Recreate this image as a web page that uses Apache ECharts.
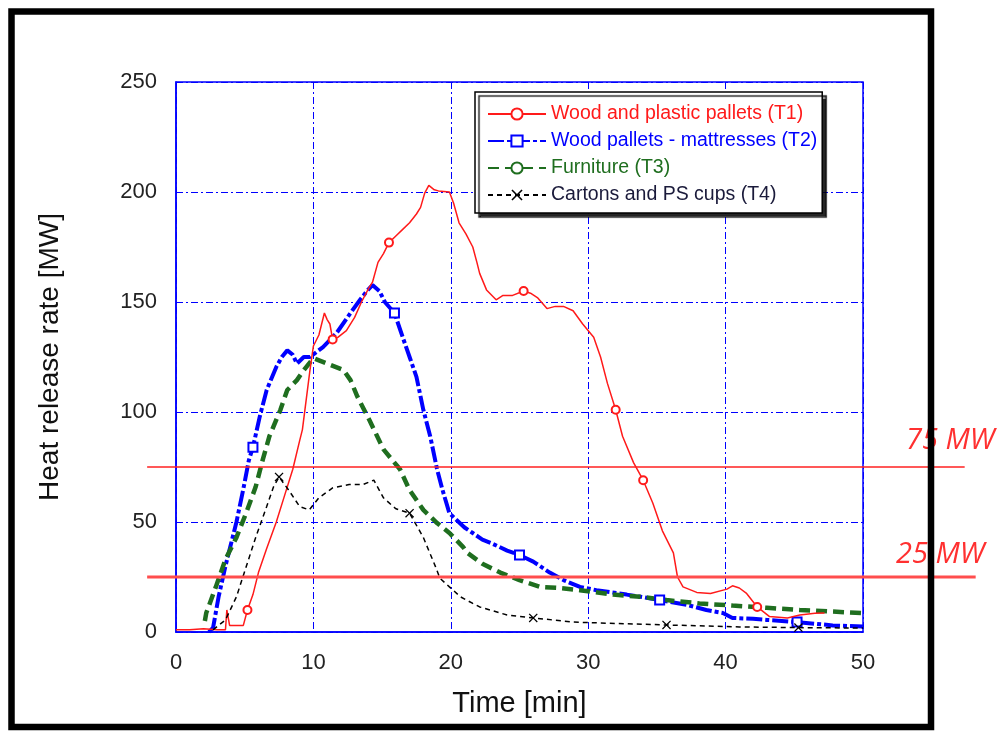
<!DOCTYPE html>
<html>
<head>
<meta charset="utf-8">
<script src="https://cdn.jsdelivr.net/npm/echarts@6/dist/echarts.min.js"></script>
<style>html,body{margin:0;padding:0;background:#fff;}#c{width:1005px;height:731px;}</style>
</head>
<body>
<div id="c"></div>
<script>
// ---- data (time [min], heat release rate [MW]) ----
const seriesNames = [
  'Wood and plastic pallets (T1)',
  'Wood pallets - mattresses (T2)',
  'Furniture (T3)',
  'Cartons and PS cups (T4)'
];
const xTicks = [0, 10, 20, 30, 40, 50];
const yTicks = [0, 50, 100, 150, 200, 250];
const thresholds = [75, 25];
const thresholdLabels = ['75 MW', '25 MW'];

const t1 = [
  [0,1],[1,1],[2,1.5],[3,1],[3.6,1],[3.7,10],[3.9,3],[4.9,3],[5.2,10],[5.6,17],[6,27],[6.6,38],
  [7.3,50],[7.9,62],[8.5,74],[9,87],[9.2,92],[9.75,119],[10,130],[10.4,135],[10.8,145],[11,142],
  [11.2,140],[11.4,133],[11.8,134],[12.4,137],[13,143],[13.5,150],[14,156],[14.3,159],[14.7,168],
  [15.1,172],[15.5,177],[16,180],[16.5,183],[17,186],[17.5,190],[17.8,193],[18.1,199.5],[18.4,203],
  [18.8,201],[19.1,200.5],[19.9,200],[20.2,195],[20.6,186],[21.1,181],[21.6,175],[21.9,168],
  [22.1,163],[22.6,155.5],[23.3,151],[23.8,153],[24.5,153],[25.3,155],[25.8,154],[26.3,152],
  [27,147],[27.6,148],[28.2,148],[28.9,146],[29.6,140],[30.4,134],[30.9,125],[31.4,113],[32,101],
  [32.5,89],[33.3,77],[34,69],[34.7,58.6],[35.4,46],[36.2,36],[36.5,25],[36.9,20.5],[37.9,18],
  [38.9,17.5],[40.1,19.5],[40.5,21],[41,20],[41.5,17.7],[42.3,11.4],[43.2,7],[44.5,6.4],[45.4,7.7],
  [46.5,8.5],[47.2,8.6]
];
const t2 = [
  [2.4,0],[2.7,2],[3.1,16],[3.6,30],[4,40],[4.4,50],[4.9,65],[5.3,78],[5.6,84],[6.1,98],[6.6,110],
  [7.3,120.5],[7.7,125],[8.1,128],[8.5,126],[8.8,122],[9.3,125],[9.75,125],[10.7,129.5],[11.7,136],
  [12.7,145],[13.4,151],[13.9,155],[14.3,157.7],[14.8,155],[15.2,150],[15.9,145],[16.5,134],[17,125],
  [17.5,116],[18,101],[18.5,89],[19,74],[19.4,64.5],[19.9,54],[20.4,51],[21,47.5],[21.6,45],[22.3,42],
  [22.9,40.5],[24.1,37],[25,35],[26,32],[27.2,27],[28.2,23.6],[29.4,20.5],[30.6,19],[32.8,17],
  [33.8,16],[35.2,14.5],[37.2,12.3],[38.6,10],[39.8,8.6],[40.5,6.4],[42,6],[43,5.5],[45.2,4.5],
  [47.8,3],[50,2.5]
];
const t3 = [
  [2.1,5],[2.2,8.6],[2.9,20.5],[3.6,33],[4.4,43],[5.1,54],[5.8,66],[6.3,78],[6.8,89],[7.6,101],
  [8.1,110],[8.8,114.5],[9.3,119],[10,124.5],[11,122],[12.2,119],[12.7,114.5],[13.2,107],[14.1,96],
  [15.1,83],[16.3,74],[17,64.5],[18,55.5],[19,49.5],[19.9,45],[20.9,38.6],[21.2,36],[22.3,31],
  [23.6,27],[25,23.6],[26.5,20.5],[27.9,20],[29.4,19],[31.8,17],[33.8,16],[35.7,14.5],[38.1,13],
  [40.5,12],[43,11],[45.4,10],[50,8.6]
];
const t4 = [
  [2.7,1],[3.6,5.5],[4.4,16],[5.1,29.5],[5.8,43],[6.6,57],[7.1,66],[7.5,70.5],[8.2,64.5],[9,57],
  [9.7,55.5],[10.4,61],[11.4,65.5],[12.6,67],[13.6,67],[14.4,69],[15.1,61],[16,56],[17,54],[18,43],
  [18.9,29.5],[19.2,24.5],[19.9,20.5],[20.7,16],[21.6,13],[22.1,11.4],[24.1,7.7],[26,6.4],[28.9,4.5],
  [31.4,4],[35.7,3.2],[41,2.3],[45.3,2],[50,1.8]
];
// times at which the original plot shows a marker symbol
const t1Marks = [5.2, 11.4, 15.5, 25.3, 32, 34, 42.3];
const t2Marks = [5.6, 15.9, 25, 35.2, 45.2];
const t3Marks = [];            // furniture markers are hidden under the thick dashes
const t4Marks = [7.5, 17, 26, 35.7, 45.3];

// reference line extent in axis units (extends outside the plot)
const refLineX = [[-2.1, 57.4], [-2.1, 58.2]];

const RED = '#ff1a1a', BLUE = '#0000ff', GREEN = '#1f6e1f', BLACK = '#000000';
const FONT = '"Liberation Sans", Arial, sans-serif';
const xSymbol = 'path://M0,1L1,0L5,4L9,0L10,1L6,5L10,9L9,10L5,6L1,10L0,9L4,5Z';

function markSize(list, size) {
  return function (val) { return list.indexOf(val[0]) >= 0 ? size : 0; };
}
const gridLine = { show: true, lineStyle: { color: BLUE, width: 1, type: [7, 3, 2, 3] } };

const chart = echarts.init(document.getElementById('c'), null, { renderer: 'canvas' });
chart.setOption({
  backgroundColor: '#fff',
  animation: false,
  grid: { left: 176, right: 142, top: 82, bottom: 99, show: true, borderColor: BLUE, borderWidth: 1.5, backgroundColor: 'transparent' },
  xAxis: {
    type: 'value', min: xTicks[0], max: xTicks[xTicks.length - 1], interval: xTicks[1] - xTicks[0],
    name: 'Time [min]', nameLocation: 'middle', nameGap: 57,
    nameTextStyle: { fontFamily: FONT, fontSize: 29, color: '#111' },
    axisLine: { show: true, lineStyle: { color: BLUE, width: 1.5 } },
    axisTick: { show: false },
    axisLabel: { fontFamily: FONT, fontSize: 22, color: '#222', margin: 20 },
    splitLine: gridLine
  },
  yAxis: {
    type: 'value', min: yTicks[0], max: yTicks[yTicks.length - 1], interval: yTicks[1] - yTicks[0],
    name: 'Heat release rate [MW]', nameLocation: 'middle', nameGap: 112,
    nameTextStyle: { fontFamily: FONT, fontSize: 28, color: '#111' },
    axisLine: { show: true, lineStyle: { color: BLUE, width: 1.5 } },
    axisTick: { show: false },
    axisLabel: { fontFamily: FONT, fontSize: 22, color: '#222', margin: 19 },
    splitLine: gridLine
  },
  legend: {
    orient: 'vertical', left: 475, top: 92,
    padding: [12, 5, 8, 12], itemGap: 7, itemWidth: 58, itemHeight: 14,
    backgroundColor: '#fff', borderColor: '#000', borderWidth: 1.5, borderRadius: 0,
    shadowColor: 'rgba(0,0,0,0.85)', shadowBlur: 1, shadowOffsetX: 4, shadowOffsetY: 4,
    textStyle: { fontFamily: FONT, fontSize: 19.5 },
    data: [
      { name: seriesNames[0], textStyle: { color: RED } },
      { name: seriesNames[1], textStyle: { color: BLUE } },
      { name: seriesNames[2], textStyle: { color: GREEN } },
      { name: seriesNames[3], textStyle: { color: '#1a1a3a' } }
    ]
  },
  series: [
    {
      name: seriesNames[0], type: 'line', data: t1, color: RED,
      symbol: 'emptyCircle', symbolSize: markSize(t1Marks, 8), showSymbol: true,
      lineStyle: { color: RED, width: 1.5 }, itemStyle: { color: RED, borderWidth: 1 }, z: 3
    },
    {
      name: seriesNames[1], type: 'line', data: t2, color: BLUE,
      symbol: 'emptyRect', symbolSize: markSize(t2Marks, 9), showSymbol: true,
      lineStyle: { color: BLUE, width: 4, type: [16, 3, 4, 3] }, itemStyle: { color: BLUE, borderWidth: 1.5 }, z: 2
    },
    {
      name: seriesNames[2], type: 'line', data: t3, color: GREEN,
      symbol: 'emptyCircle', symbolSize: markSize(t3Marks, 5), showSymbol: true,
      lineStyle: { color: GREEN, width: 4.5, type: [11, 6] }, itemStyle: { color: GREEN, borderWidth: 1.5 }, z: 2
    },
    {
      name: seriesNames[3], type: 'line', data: t4, color: BLACK,
      symbol: xSymbol, symbolSize: markSize(t4Marks, 9), showSymbol: true,
      lineStyle: { color: BLACK, width: 1.5, type: [5, 4] }, itemStyle: { color: BLACK }, z: 4
    }
  ]
});

// threshold lines extend beyond the plot: place them through the chart's own scale
const refStyles = [
  { stroke: '#ff2020', lineWidth: 1.5 },
  { stroke: '#ff4d4d', lineWidth: 3 }
];
const labelPos = [[906, 426], [896, 540]];
const graphics = [];
thresholds.forEach(function (v, i) {
  const a = chart.convertToPixel({ gridIndex: 0 }, [refLineX[i][0], v]);
  const b = chart.convertToPixel({ gridIndex: 0 }, [refLineX[i][1], v]);
  graphics.push({ type: 'line', z: 50, silent: true,
    shape: { x1: a[0], y1: a[1], x2: b[0], y2: b[1] }, style: refStyles[i] });
  graphics.push({ type: 'text', left: labelPos[i][0], top: labelPos[i][1], z: 60,
    style: { text: thresholdLabels[i], fill: '#ff3030', font: 'italic 29px "Open Sans", sans-serif' } });
});
graphics.push({ type: 'rect', z: 100, silent: true,
  shape: { x: 11.5, y: 11.5, width: 919.5, height: 715.5 },
  style: { fill: 'none', stroke: '#000', lineWidth: 6.5 } });
chart.setOption({ graphic: graphics });
</script>
</body>
</html>
